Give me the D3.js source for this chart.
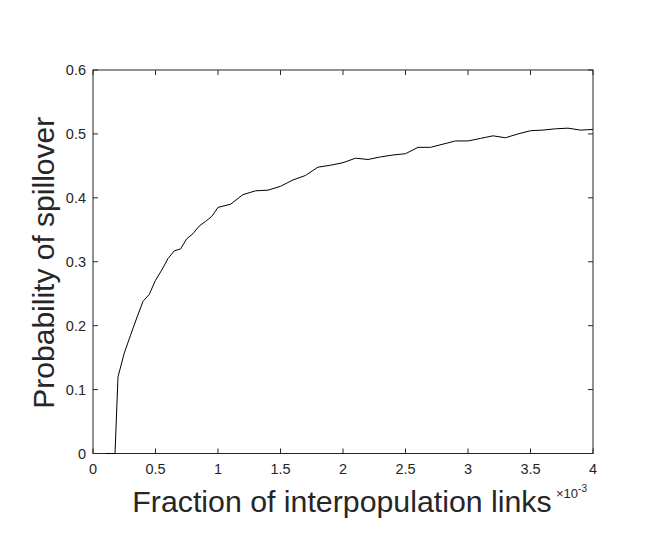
<!DOCTYPE html>
<html><head><meta charset="utf-8">
<script src="https://cdn.jsdelivr.net/npm/d3@7"></script>
<style>body{margin:0;background:#fff}svg{display:block}text{font-family:"Liberation Sans",Arial,sans-serif;fill:#262626}</style>
</head><body><svg id="c" width="664" height="554"></svg>
<script>
const xVals = [0.1,0.15,0.176,0.2,0.25,0.3,0.35,0.4,0.45,0.5,0.55,0.6,0.65,0.7,0.75,0.8,0.85,0.9,0.95,1.0,1.1,1.2,1.3,1.4,1.5,1.6,1.7,1.8,1.9,2.0,2.1,2.2,2.3,2.4,2.5,2.6,2.7,2.8,2.9,3.0,3.1,3.2,3.3,3.4,3.5,3.6,3.7,3.8,3.9,4.0];
const yVals = [0,0,0,0.12,0.157,0.185,0.212,0.238,0.249,0.271,0.287,0.305,0.317,0.320,0.336,0.344,0.356,0.363,0.371,0.385,0.390,0.405,0.411,0.412,0.418,0.428,0.435,0.448,0.451,0.455,0.462,0.460,0.464,0.467,0.469,0.479,0.479,0.484,0.489,0.489,0.493,0.497,0.494,0.500,0.505,0.506,0.508,0.509,0.506,0.507];
const xTicks = [0,0.5,1,1.5,2,2.5,3,3.5,4];
const yTicks = [0,0.1,0.2,0.3,0.4,0.5,0.6];
const xLabel = "Fraction of interpopulation links";
const yLabel = "Probability of spillover";

const svg = d3.select("#c");
const L=93,R=593,T=70,B=453.5;
const x = d3.scaleLinear().domain([0,4]).range([L,R]);
const y = d3.scaleLinear().domain([0,0.6]).range([B,T]);
const col="#262626", tl=5;

const g = svg.append("g");
g.append("rect").attr("x",L).attr("y",T).attr("width",R-L).attr("height",B-T)
 .attr("fill","none").attr("stroke",col).attr("stroke-width",1);
xTicks.forEach(t=>{
  g.append("line").attr("x1",x(t)).attr("x2",x(t)).attr("y1",B).attr("y2",B-tl).attr("stroke",col);
  g.append("line").attr("x1",x(t)).attr("x2",x(t)).attr("y1",T).attr("y2",T+tl).attr("stroke",col);
  g.append("text").attr("x",x(t)).attr("y",B+20).attr("text-anchor","middle").attr("font-size",14.5).text(t);
});
yTicks.forEach(t=>{
  g.append("line").attr("x1",L).attr("x2",L+tl).attr("y1",y(t)).attr("y2",y(t)).attr("stroke",col);
  g.append("line").attr("x1",R).attr("x2",R-tl).attr("y1",y(t)).attr("y2",y(t)).attr("stroke",col);
  g.append("text").attr("x",L-7).attr("y",y(t)+5).attr("text-anchor","end").attr("font-size",14.5).text(t);
});
const data = xVals.map((v,i)=>[v,yVals[i]]);
g.append("path").datum(data).attr("fill","none").attr("stroke","#000").attr("stroke-width",1)
 .attr("d",d3.line().x(d=>x(d[0])).y(d=>y(d[1])));
svg.append("text").attr("x",(L+R)/2-1).attr("y",512).attr("text-anchor","middle").attr("font-size",30.3).text(xLabel);
const ex = svg.append("text").attr("x",556).attr("y",498).attr("font-size",13);
ex.append("tspan").text("\u00d710");
ex.append("tspan").attr("dy",-6).attr("font-size",10).text("-3");
svg.append("text").attr("transform",`translate(54,${(T+B)/2+1}) rotate(-90)`).attr("text-anchor","middle").attr("font-size",30).text(yLabel);
</script></body></html>
